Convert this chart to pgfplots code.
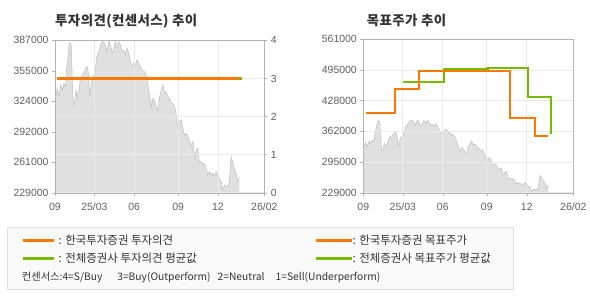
\documentclass[border=0pt]{standalone}
\usepackage{pgfplots}
\pgfplotsset{compat=1.18}
\usepackage{pgfplotstable}
\usepackage{fontspec}
\setmainfont{Liberation Sans}
\newfontfamily\kr{Noto Sans CJK KR}
\definecolor{orng}{HTML}{FF7800}
\definecolor{grn}{HTML}{77BB00}
\definecolor{areaf}{HTML}{E0E0E0}
\definecolor{areal}{HTML}{C4C4C4}
\definecolor{gridc}{HTML}{EBEBEB}
\definecolor{framec}{HTML}{B4B4B4}
\definecolor{tickc}{HTML}{606060}
\definecolor{txtc}{HTML}{333333}

\pgfplotstableread{
x y
0 323400
2.3 337200
4 328600
5.7 340650
7.3 335470
9 342380
10.7 338930
11.7 359660
13 368300
14 382130
15 384890
16.3 382130
17.3 347570
18.3 319920
19.7 323370
21 335470
22.3 328560
24 335470
25.7 347570
27.3 351020
29 352750
30.7 357930
32.3 359660
33.3 354480
35 328560
36.3 340650
37.3 347570
39 351020
40.7 357930
42.3 371760
44 375210
45.7 382130
47.3 385580
49 385580
50.7 380400
52.3 375210
54 386800
55.7 382130
57.3 373480
59 378670
60.7 385580
62.3 378670
64 385580
65.7 382130
67.3 375210
69 376940
70.7 371760
72.3 378670
74 373480
75.7 364850
77.3 359660
79 363120
80.7 361390
82.3 366580
84 363120
85.7 359660
87.3 356210
89 354480
90 354480
91.7 349290
93.3 340650
95 330280
96.7 318190
98.3 326830
100 323370
101.7 318190
103.3 314740
105 328560
106.7 335470
108.3 340650
110 332020
111.7 333740
113.3 328560
115 326830
116.7 321650
118.3 321650
120 318190
121.7 309550
123.3 297450
125 302640
126.7 304370
128.3 295730
130 288810
131.7 290540
133.3 287090
135 281900
136.7 278450
138.3 281900
140 264620
141.7 273260
143.3 274990
145 259440
146.7 261170
148.3 257710
150 259440
151.7 254260
153.3 247350
155 250800
156.7 247350
158.3 249080
160 245620
161.7 250800
163.3 247350
165 243890
166.7 240440
168.3 231800
170 236980
171.7 235250
173.3 235250
175 240440
176.7 266360
178.3 261170
180 254260
181.7 249080
183.3 240440
185 245620
}\price

\pgfplotsset{
  base/.style={
    scale only axis, anchor=south west,
    xmin=0, xmax=210,
    scaled y ticks=false, scaled x ticks=false,
    axis line style={framec}, tick style={framec, thin},
    tick align=outside, major tick length=3bp,
    tick label style={font=\fontsize{10.5}{12}\selectfont, text=tickc},
    xtick={0,39.5,79.5,123.5,163.5,210},
    xticklabels={09,25/03,06,09,12,26/02},
    xtick pos=bottom,
    xticklabel style={yshift=-3.5bp},
  },
  gridax/.style={
    base, xticklabels={}, grid=major,
    major grid style={gridc, line width=0.8bp},
  },
}

\begin{document}
\begin{tikzpicture}[x=1bp,y=1bp]
\path[use as bounding box] (0,0) rectangle (590,300);

% ---------- left chart ----------
\begin{axis}[base, at={(55bp,107.3bp)}, width=209.3bp, height=152.4bp,
  ymin=229000, ymax=387000,
  ytick={229000,260600,292200,323800,355400,387000},
  yticklabels={229000,261000,292000,324000,355000,387000},
  ytick pos=left]
\addplot[fill=areaf, draw=none] table[x=x,y=y]{\price} \closedcycle;
\addplot[areal, line width=0.6bp] table[x=x,y=y]{\price};
\end{axis}
\begin{axis}[gridax, at={(55bp,107.3bp)}, width=209.3bp, height=152.4bp,
  ymin=0, ymax=4, ytick={0,1,2,3,4}, yticklabels={0,1,2,3,4},
  ytick pos=right]
\addplot[grn, line width=2.5bp] coordinates {(184.3,3) (187.7,3)};
\addplot[orng, line width=2.5bp] coordinates {(2.3,3) (184.3,3)};
\end{axis}
\node[anchor=west, inner sep=0, text=txtc] at (55,279.3)
  {\kr\bfseries\fontsize{13.5}{15}\selectfont\addfontfeature{LetterSpace=3} 투자의견(컨센서스) 추이};

% ---------- right chart ----------
\begin{axis}[base, at={(363.3bp,107.3bp)}, width=210bp, height=153.4bp,
  ymin=229000, ymax=561000,
  ytick={229000,295400,361800,428200,494600,561000},
  yticklabels={229000,295000,362000,428000,495000,561000},
  ytick pos=left]
\addplot[fill=areaf, draw=none] table[x=x,y=y]{\price} \closedcycle;
\addplot[areal, line width=0.6bp] table[x=x,y=y]{\price};
\end{axis}
\begin{axis}[gridax, at={(363.3bp,107.3bp)}, width=210bp, height=153.4bp,
  ymin=229000, ymax=561000,
  ytick={229000,295400,361800,428200,494600,561000},
  yticklabels={}, ytick pos=left]
\addplot[grn, line width=2.5bp, const plot] coordinates
  {(40,468600) (80.7,496800) (124.3,498900) (164.7,436100) (187.7,355300)};
\addplot[orng, line width=2.5bp, const plot] coordinates
  {(2.7,402000) (31.7,453000) (55.7,492000) (146.7,391000) (171.7,352000) (184.3,352000)};
\end{axis}
\node[anchor=west, inner sep=0, text=txtc] at (366.7,280)
  {\kr\bfseries\fontsize{13.5}{15}\selectfont\addfontfeature{LetterSpace=3} 목표주가 추이};

% ---------- legend box ----------
\draw[draw=black!12, fill=black!2] (7,11) rectangle (513,73);
\draw[orng, line width=3bp] (22.7,59.7) -- (54,59.7);
\node[anchor=west, inner sep=0, text=txtc] at (58.5,59.7)
  {\kr\fontsize{11.5}{13}\selectfont : 한국투자증권 투자의견};
\draw[orng, line width=3bp] (316,59.7) -- (351.7,59.7);
\node[anchor=west, inner sep=0, text=txtc] at (352.5,59.7)
  {\kr\fontsize{11.5}{13}\selectfont : 한국투자증권 목표주가};
\draw[grn, line width=3bp] (22.7,41.7) -- (54,41.7);
\node[anchor=west, inner sep=0, text=txtc] at (58.5,41.7)
  {\kr\fontsize{11.5}{13}\selectfont : 전체증권사 투자의견 평균값};
\draw[grn, line width=3bp] (316,41.7) -- (351.7,41.7);
\node[anchor=west, inner sep=0, text=txtc] at (352.5,41.7)
  {\kr\fontsize{11.5}{13}\selectfont : 전체증권사 목표주가 평균값};
\node[anchor=west, inner sep=0, text=txtc] at (21.7,22.7)
  {\kr\fontsize{10.3}{12}\selectfont 컨센서스:4=S/Buy\hspace{15bp}3=Buy(Outperform)\hspace{7bp}2=Neutral\hspace{11bp}1=Sell(Underperform)};
\end{tikzpicture}
\end{document}
